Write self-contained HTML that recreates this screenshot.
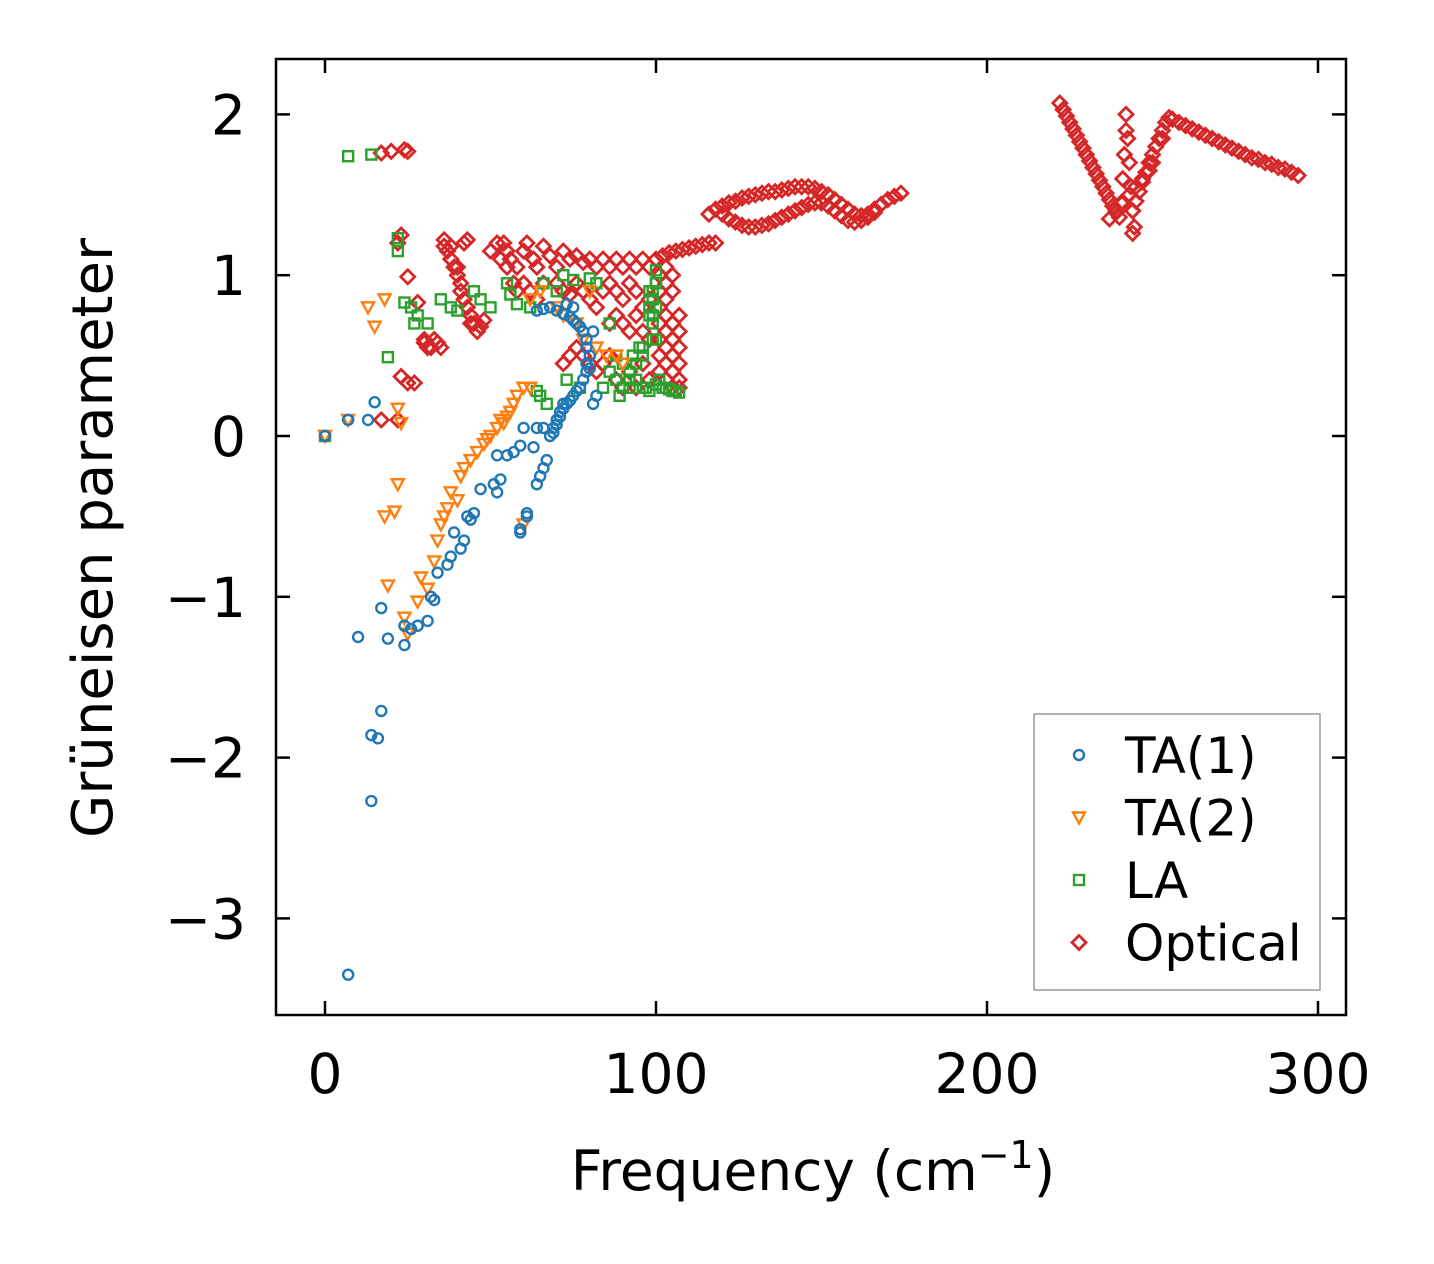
<!DOCTYPE html>
<html><head><meta charset="utf-8">
<style>
html,body{margin:0;padding:0;background:#fff;}
svg{display:block;font-family:"DejaVu Sans","Liberation Sans",sans-serif;}
</style></head>
<body>
<svg id="chart" width="1434" height="1264" viewBox="0 0 1434 1264">
<rect x="0" y="0" width="1434" height="1264" fill="#fff"/>
<g id="marks"></g>
<rect x="276" y="59" width="1070" height="956" fill="none" stroke="#000" stroke-width="2.5"/>
<g id="axes"></g>
<text x="813" y="1190" font-size="55" text-anchor="middle">Frequency (cm<tspan dy="-22" font-size="38">−1</tspan><tspan dy="22">)</tspan></text>
<text transform="translate(112,538) rotate(-90)" font-size="56" text-anchor="middle">Grüneisen parameter</text>
<g>
<rect x="1034" y="714" width="286" height="276" fill="#fff" stroke="#999" stroke-width="1.5"/>
<g id="legend"></g>
</g>
</svg>
<script>
const xTicks=[0,100,200,300];
const yTicks=[2,1,0,-1,-2,-3];
const seriesNames=["TA(1)","TA(2)","LA","Optical"];
const seriesColors=["#1f77b4","#ff7f0e","#2ca02c","#d62728"];
const ta1X=[0,7,13,15,10,17,19,24,24,26,28,31,32,33,34,37,38,39,41,42,43,44,45,47,51,52,52,53,55,57,59,59,60,59,61,61,63,64,64,65,66,66,67,68,69,70,71,72,73,74,75,76,77,78,79,80,81,82,14,16,17,14,7,64,66,68,70,72,74,75,76,77,78,79,79,80,79,73,75,81,71,72,69,70];
const ta1Y=[0,0.1,0.1,0.21,-1.25,-1.07,-1.26,-1.3,-1.18,-1.2,-1.18,-1.15,-1.0,-1.02,-0.85,-0.8,-0.75,-0.6,-0.7,-0.65,-0.5,-0.52,-0.48,-0.33,-0.3,-0.35,-0.12,-0.27,-0.12,-0.1,-0.6,-0.58,0.05,-0.06,-0.5,-0.48,-0.07,-0.3,0.05,-0.25,-0.2,0.05,-0.15,0,0.05,0.1,0.15,0.2,0.2,0.22,0.25,0.28,0.3,0.35,0.4,0.42,0.2,0.25,-1.86,-1.88,-1.71,-2.27,-3.35,0.78,0.79,0.8,0.78,0.76,0.74,0.72,0.7,0.68,0.65,0.6,0.55,0.5,0.45,0.82,0.8,0.65,0.12,0.17,0.02,0.07];
const ta2X=[0,7,13,15,18,18,19,21,22,22,23,24,25,28,29,33,34,35,36,37,38,41,42,44,46,48,50,52,54,55,56,57,58,60,62,70,72,76,78,82,85,88,90,60,62,65,80,31,40,49,53];
const ta2Y=[0,0.1,0.8,0.68,0.85,-0.5,-0.93,-0.47,0.17,-0.3,0.08,-1.13,-1.23,-1.03,-0.88,-0.78,-0.65,-0.55,-0.5,-0.45,-0.35,-0.25,-0.2,-0.15,-0.1,-0.05,0,0.05,0.08,0.12,0.15,0.2,0.25,0.3,0.3,0.8,0.75,0.7,0.6,0.55,0.5,0.5,0.45,-0.55,0.85,0.9,0.9,-0.95,-0.4,-0.02,0.1];
const laX=[0,7,14,19,22,22,24,26,27,28,31,35,38,40,45,47,50,55,56,58,62,64,65,66,67,70,72,73,75,77,80,82,84,86,88,89,90,92,94,96,97,98,99,99,100,100,101,103,105,107,95,92,98,99,100,
92,94,96,98,100,102,104,106,90,93,96,99,100,100,99,98,86,88];
const laY=[0,1.74,1.75,0.49,1.23,1.15,0.83,0.8,0.7,0.75,0.7,0.85,0.8,0.78,0.9,0.85,0.8,0.95,0.88,0.82,0.8,0.28,0.25,0.95,0.2,0.9,1.0,0.35,0.97,0.3,0.98,0.95,0.3,0.7,0.5,0.25,0.3,0.4,0.45,0.5,0.3,0.8,0.7,0.9,1.03,0.6,0.35,0.3,0.28,0.27,0.55,0.35,0.75,0.85,0.95,
0.3,0.35,0.3,0.28,0.32,0.3,0.29,0.28,0.45,0.5,0.55,0.6,0.8,0.95,0.75,0.9,0.4,0.35];
const optX=[17,20,24,25,17,22,23,22,25,23,25,27,28,30,32,34,36,38,40,41,42,43,44,46,48,
54,55,56,58,60,61,63,64,66,68,70,72,74,76,78,80,82,84,86,88,90,92,94,96,98,
60,62,64,66,70,72,74,76,78,80,82,84,86,88,90,92,94,96,98,86,88,90,92,94,96,98,
101,101,101,101,101,101,101,103,103,103,103,103,103,103,103,105,105,105,105,105,105,105,107,107,107,107,107,107,
72,74,76,78,80,82,84,86,88,90,92,94,96,98,
36,37,38,39,40,41,42,43,44,45,47,50,52,53,55,57,58,30,31,33,35,
100,102,104,106,108,110,112,114,116,118,
116,118,120,122,124,126,128,130,132,134,136,138,140,142,144,146,148,150,152,154,156,158,160,162,164,166,168,170,172,174,
120,122,124,126,128,130,132,134,136,138,140,142,144,146,148,150,152,154,156,158,160,162,164,166,
222,223,224,225,226,227,228,229,230,231,232,233,234,235,236,237,238,239,240,
240.5,241,241.5,242,242,242.5,243,243.5,244,244.5,
244,245,246,247,248,249,250,251,252,253,254,255,
256,258,260,262,264,266,268,270,272,274,276,278,280,282,284,286,288,290,292,294,
237,239,241,243,245,247,249,250,244,253];
const optY=[1.76,1.77,1.78,1.77,0.1,0.1,1.25,1.2,0.99,0.37,0.33,0.33,0.83,0.6,0.55,0.58,1.22,1.18,1.05,0.95,1.2,1.22,0.7,0.65,0.72,
1.2,1.15,1.1,1.05,1.15,1.2,1.1,1.05,1.18,1.12,1.05,1.15,1.1,1.12,1.08,1.1,1.05,1.1,1.05,1.1,1.05,1.1,1.05,1.1,1.05,
0.95,0.9,0.85,0.95,0.95,0.9,0.88,0.95,0.9,0.85,0.8,0.9,0.95,0.9,0.85,0.95,0.9,0.8,0.85,0.7,0.75,0.7,0.65,0.75,0.65,0.6,
1.0,0.9,0.8,0.7,0.6,0.5,0.4,1.05,0.95,0.85,0.75,0.65,0.55,0.45,0.35,1.0,0.9,0.7,0.6,0.5,0.4,0.3,0.75,0.65,0.55,0.45,0.35,0.3,
0.45,0.5,0.55,0.5,0.45,0.4,0.45,0.5,0.35,0.3,0.4,0.3,0.45,0.35,
1.18,1.15,1.1,1.05,1.0,0.9,0.85,0.8,0.75,0.7,0.68,1.15,1.2,1.1,1.05,0.95,0.9,0.58,0.55,0.6,0.55,
1.1,1.12,1.14,1.15,1.16,1.17,1.18,1.19,1.2,1.2,
1.38,1.41,1.43,1.45,1.46,1.48,1.49,1.5,1.51,1.52,1.52,1.53,1.54,1.55,1.55,1.55,1.54,1.52,1.5,1.47,1.44,1.41,1.38,1.37,1.38,1.41,1.44,1.47,1.49,1.51,
1.38,1.35,1.33,1.31,1.3,1.3,1.31,1.32,1.34,1.36,1.38,1.4,1.42,1.44,1.45,1.45,1.43,1.4,1.37,1.34,1.33,1.34,1.36,1.39,
2.07,2.03,1.99,1.95,1.91,1.87,1.83,1.79,1.75,1.71,1.67,1.63,1.59,1.55,1.51,1.47,1.43,1.39,1.36,
1.45,1.6,1.75,1.9,2.0,1.85,1.7,1.55,1.4,1.3,
1.4,1.46,1.52,1.58,1.64,1.7,1.75,1.8,1.85,1.9,1.95,1.98,
1.97,1.95,1.93,1.91,1.89,1.87,1.85,1.83,1.81,1.79,1.77,1.75,1.73,1.72,1.7,1.69,1.67,1.66,1.64,1.62,
1.35,1.4,1.45,1.5,1.55,1.6,1.65,1.7,1.26,1.85];
const NS="http://www.w3.org/2000/svg";
function xs(v){return 325+v*3.31;}
function ys(v){return 436-v*160.8;}
function mk(shape,color,cx,cy){
  let e;
  if(shape===0){e=document.createElementNS(NS,"circle");e.setAttribute("cx",cx);e.setAttribute("cy",cy);e.setAttribute("r",5);}
  else if(shape===1){e=document.createElementNS(NS,"polygon");e.setAttribute("points",`${cx-6},${cy-5} ${cx+6},${cy-5} ${cx},${cy+6}`);}
  else if(shape===2){e=document.createElementNS(NS,"rect");e.setAttribute("x",cx-5);e.setAttribute("y",cy-5);e.setAttribute("width",10);e.setAttribute("height",10);}
  else {e=document.createElementNS(NS,"polygon");e.setAttribute("points",`${cx},${cy-7} ${cx+7},${cy} ${cx},${cy+7} ${cx-7},${cy}`);}
  e.setAttribute("fill","none");e.setAttribute("stroke",color);e.setAttribute("stroke-width",shape===3?2.8:2.4);
  return e;
}
const marks=document.getElementById("marks");
const series=[[ta1X,ta1Y],[ta2X,ta2Y],[laX,laY],[optX,optY]];
const keys=["ta1","ta2","la","optical"];
for(const s of [3,2,1,0]){
  const g=document.createElementNS(NS,"g");
  
  
  const [X,Y]=series[s];
  for(let i=0;i<X.length;i++){
    const m=mk(s,seriesColors[s],xs(X[i]),ys(Y[i]));
    
    
    g.appendChild(m);
  }
  marks.appendChild(g);
}
const axes=document.getElementById("axes");
function line(x1,y1,x2,y2){const l=document.createElementNS(NS,"line");l.setAttribute("x1",x1);l.setAttribute("y1",y1);l.setAttribute("x2",x2);l.setAttribute("y2",y2);l.setAttribute("stroke","#000");l.setAttribute("stroke-width",2.5);return l;}
function txt(x,y,s,anchor,fs){const t=document.createElementNS(NS,"text");t.setAttribute("x",x);t.setAttribute("y",y);t.setAttribute("font-size",fs);t.setAttribute("text-anchor",anchor);t.textContent=s;return t;}
xTicks.forEach(v=>{
  const x=xs(v);
  const a=line(x,1015,x,1001);axes.appendChild(a);
  const b=line(x,59,x,73);axes.appendChild(b);
  const t=txt(x,1093,String(v),"middle",55);axes.appendChild(t);
});
yTicks.forEach(v=>{
  const y=ys(v);
  const a=line(276,y,290,y);axes.appendChild(a);
  const b=line(1346,y,1332,y);axes.appendChild(b);
  const t=txt(246,y+20,String(v).replace("-","−"),"end",55);axes.appendChild(t);
});
const leg=document.getElementById("legend");
seriesNames.forEach((n,i)=>{
  const y=755+i*62.5;
  const g=document.createElementNS(NS,"g");
  
  
  g.appendChild(mk(i,seriesColors[i],1079,y));
  const t=txt(1125,y+18,n,"start",50);
  g.appendChild(t);
  leg.appendChild(g);
});
</script>
</body></html>
